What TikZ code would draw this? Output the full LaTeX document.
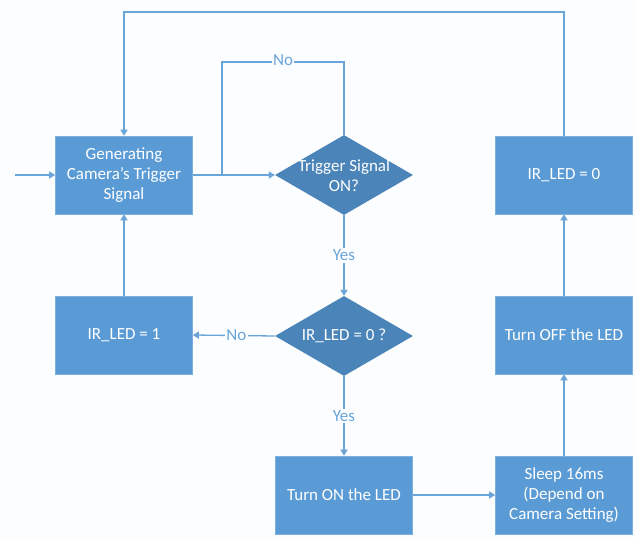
\documentclass[tikz,border=0pt]{standalone}
\usepackage{fontspec}
\setmainfont{Carlito}
\usetikzlibrary{shapes.geometric,arrows.meta}
\definecolor{bg}{HTML}{FCFDFE}
\definecolor{boxblue}{HTML}{5B9BD5}
\definecolor{diablue}{HTML}{4A84B8}
\definecolor{linblue}{HTML}{6AA5DA}
\tikzset{
  procbox/.style={rectangle, fill=boxblue, draw=boxblue!80!white, line width=0.6pt, text=white, align=center,
    minimum width=137pt, minimum height=78pt, inner sep=0pt, font=\fontsize{17}{20}\selectfont},
  decide/.style={diamond, aspect=1, fill=diablue, draw=none, minimum width=138pt, minimum height=80pt, inner sep=0pt},
  dtext/.style={text=white, align=center, inner sep=0pt, font=\fontsize{17}{20}\selectfont},
  conn/.style={draw=linblue, line width=1.3pt},
  arr/.style={conn, -{Triangle[width=7pt,length=6pt]}},
  lbl/.style={fill=bg, text=linblue, inner sep=1.5pt, font=\fontsize{17}{18}\selectfont}
}
\begin{document}
\begin{tikzpicture}[x=1pt,y=-1pt]
\fill[bg] (0,0) rectangle (635,538);
\useasboundingbox (0,0) rectangle (635,538);

\node[procbox] (gen) at (124,175) {Generating\\Camera's Trigger\\Signal};
\node[procbox] (ir0) at (564,175) {IR\_LED = 0};
\node[procbox] (ir1) at (124,335) {IR\_LED = 1};
\node[procbox] (off) at (564,335) {Turn OFF the LED};
\node[procbox] (on) at (344,495) {Turn ON the LED};
\node[procbox] (sleep) at (564,495) {Sleep 16ms\\(Depend on\\Camera Setting)};

\node[decide] (d1) at (344,175) {};
\node[dtext] (d1t) at (344,176) {Trigger Signal\\ON?};
\node[decide] (d2) at (344,336) {};
\node[dtext] (d2t) at (344,336) {IR\_LED = 0 ?};

\coordinate (in) at (15,175);
\coordinate (top) at (0,12);
\coordinate (nol) at (222,62);

\draw[arr] (in) -- (gen.west);
\draw[arr] (ir0.north) -- (ir0.north |- top) -| (gen.north);
\draw[arr] (gen.east) -- (d1.west);
\draw[conn] (d1.north) |- (nol) -- (nol |- gen.east);
\node[lbl] (nolbl) at (283,60) {No};
\draw[arr] (d1.south) -- node[lbl] (yes1) {Yes} (d2.north);
\draw[arr] (d2.west) -- node[lbl, pos=0.47] (no2) {No} (ir1.east);
\draw[arr] (d2.south) -- node[lbl] (yes2) {Yes} (on.north);
\draw[arr] (on.east) -- (sleep.west);
\draw[arr] (sleep.north) -- (off.south);
\draw[arr] (off.north) -- (ir0.south);
\draw[arr] (ir1.north) -- (gen.south);
\end{tikzpicture}
\end{document}
